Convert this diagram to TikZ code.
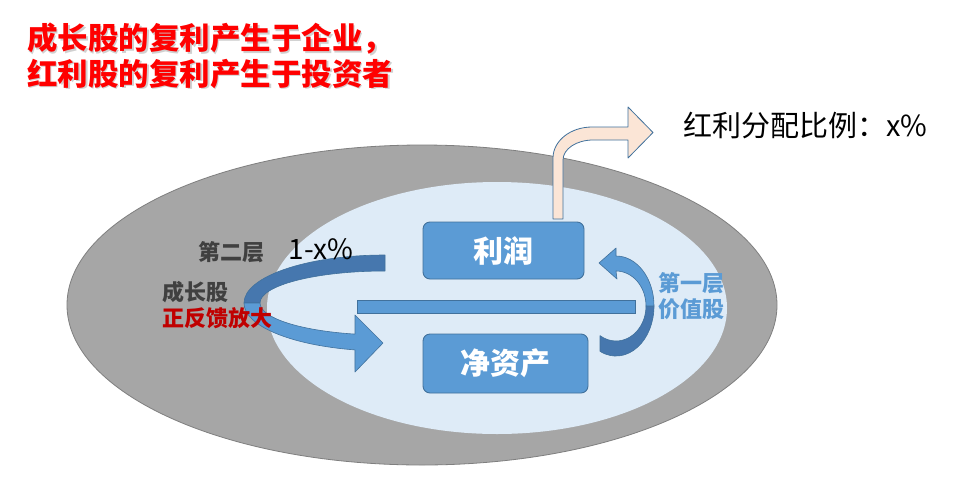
\documentclass[tikz,border=0pt]{standalone}
\usepackage{fontspec}
\setmainfont{Noto Sans CJK SC}
\definecolor{ringgray}{HTML}{A6A6A6}
\definecolor{ringedge}{HTML}{7F7F7F}
\definecolor{innerblue}{HTML}{DEEBF7}
\definecolor{boxblue}{HTML}{5B9BD5}
\definecolor{boxedge}{HTML}{41719C}
\definecolor{arrowdark}{HTML}{4677AE}
\definecolor{peach}{HTML}{FBE5D6}
\definecolor{titlered}{HTML}{FF0000}
\definecolor{darkred}{HTML}{C00000}
\definecolor{labelgray}{HTML}{404040}
\tikzset{
  blockbox/.style={draw=boxedge, line width=0.9pt, fill=boxblue, rounded corners=7pt},
  blocktext/.style={text=white, font=\bfseries\fontsize{30}{32}\selectfont, inner sep=0pt},
  smalllabel/.style={font=\bfseries\fontsize{22}{24}\selectfont, inner sep=0pt},
  titletext/.style={text=titlered, font=\bfseries\fontsize{30.5}{32}\selectfont, inner sep=0pt, anchor=west},
  bandlight/.style={fill=boxblue, draw=boxedge, line width=0.6pt, line join=round},
  banddark/.style={fill=arrowdark, draw=boxedge, line width=0.6pt, line join=round}
}
\begin{document}
\begin{tikzpicture}[x=1pt, y=-1pt]
\path[use as bounding box, fill=white] (0,0) rectangle (971,485);

% ellipses
\path[fill=ringgray, draw=ringedge, line width=0.8pt] (422,305) ellipse [x radius=355pt, y radius=160pt];
\path[fill=innerblue] (497,308) ellipse [x radius=230pt, y radius=126pt];

% title (with faint shadow)
\node[titletext, text=black!30, opacity=0.6] at (28.5,40.5) {成长股的复利产生于企业，};
\node[titletext, text=black!30, opacity=0.6] at (28.5,75.5) {红利股的复利产生于投资者};
\node[titletext] (t1) at (27,39) {成长股的复利产生于企业，};
\node[titletext] (t2) at (27,74) {红利股的复利产生于投资者};

% dividend bent arrow
\path[fill=peach, draw=boxedge, line width=0.8pt, line join=round]
  (553,219) -- (553,158) arc[start angle=180, end angle=90, x radius=39pt, y radius=31pt]
  -- (628,127) -- (628,107) -- (653,132.5) -- (628,158) -- (628,140) -- (593,140)
  arc[start angle=90, end angle=180, x radius=30pt, y radius=20pt]
  -- (563,219) -- cycle;
\node[anchor=west, inner sep=0pt, font=\fontsize{29}{31}\selectfont] (ratio) at (683,126) {红利分配比例：x\%};

% boxes
\path[blockbox] (423,222) rectangle (584,279);
\node[blocktext] (profit) at (503.5,251) {利润};
\path[blockbox] (423,334) rectangle (588,393);
\node[blocktext] (equity) at (505.5,363) {净资产};

% horizontal bar
\path[fill=boxblue, draw=boxedge, line width=0.6pt] (357,300) rectangle (635,313);

% left curved arrow (second layer)
\path[banddark] (385,255) arc[start angle=90, end angle=180, x radius=141pt, y radius=48pt]
  -- (260,303) arc[start angle=180, end angle=90, x radius=125pt, y radius=32pt] -- cycle;
\path[bandlight] (244,303) arc[start angle=180, end angle=257.7, x radius=141pt, y radius=48pt]
  -- (355,372) -- (383,343) -- (355,315) -- (355,334.1)
  arc[start angle=256.1, end angle=180, x radius=125pt, y radius=32pt] -- cycle;

% right curved arrow (first layer)
\path[banddark] (600,335.6) -- (600,351.4) arc[start angle=245.1, end angle=360, x radius=38pt, y radius=50pt]
  -- (646,306) arc[start angle=360, end angle=237.8, x radius=30pt, y radius=35pt] -- cycle;
\path[bandlight] (654,306) arc[start angle=0, end angle=90, x radius=38pt, y radius=50pt]
  -- (616,248) -- (599,263) -- (617,279) -- (616,271)
  arc[start angle=90, end angle=0, x radius=30pt, y radius=35pt] -- cycle;

% labels
\node[smalllabel, text=labelgray] (l2) at (231,252) {第二层};
\node[inner sep=0pt, font=\fontsize{28}{30}\selectfont] (pct) at (321,249) {1-x\%};
\node[smalllabel, text=labelgray] (growth) at (195,292) {成长股};
\node[smalllabel, text=darkred] (feedback) at (217,318) {正反馈放大};
\node[smalllabel, text=boxblue] (l1) at (691,283) {第一层};
\node[smalllabel, text=boxblue] (value) at (691,309) {价值股};
\end{tikzpicture}
\end{document}
